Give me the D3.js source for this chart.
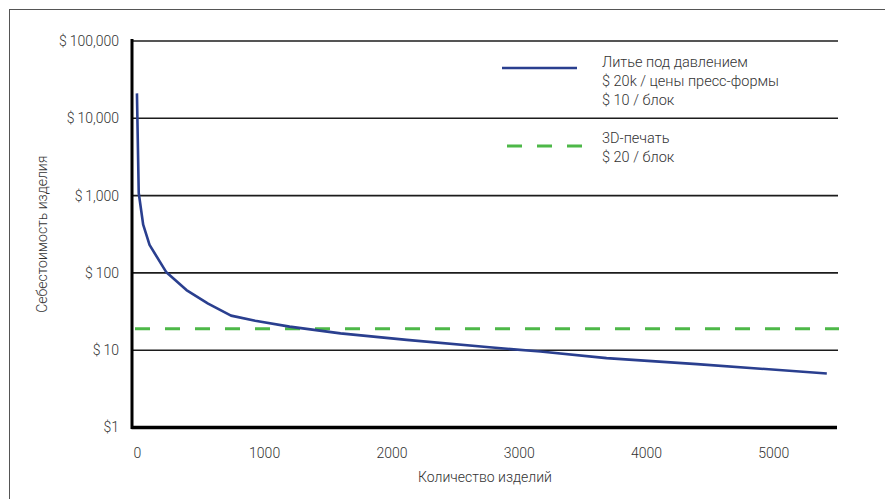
<!DOCTYPE html>
<html><head><meta charset="utf-8">
<script src="https://cdn.jsdelivr.net/npm/d3@7"></script>
<style>
body{margin:0;background:#fff;}
text{font-family:Roboto,'Noto Sans',sans-serif;font-weight:300;fill:#333;}
</style>
</head><body>
<svg id="chart" width="885" height="499"></svg>
<script>
// ---- data ----
const quantity = [1, 15, 50, 100, 230, 390, 560, 740, 930, 1200, 1600, 2120, 2770, 3170, 3690, 4400, 5420];
const moldingCost = [21000, 1080, 420, 230, 103, 60, 40, 28, 24, 20.2, 16.5, 13.6, 10.9, 9.6, 7.9, 6.6, 5.0];
const printCost = 19;
const xDomain = [-30, 5500];
const xTicks = [0, 1000, 2000, 3000, 4000, 5000];
const yTicks = [1, 10, 100, 1000, 10000, 100000];
const yTickLabels = ["$1", "$\u200910", "$\u2009100", "$\u20091,000", "$\u200910,000", "$\u2009100,000"];
const legendMolding = ["Литье под давлением", "$ 20k / цены пресс-формы", "$ 10 / блок"];
const legendPrint = ["3D-печать", "$ 20 / блок"];
const xTitle = "Количество изделий";
const yTitle = "Себестоимость изделия";

// ---- layout ----
const svg = d3.select("#chart");
const L = 133, R = 837, T = 41, B = 427.5;
const x = d3.scaleLinear().domain(xDomain).range([L, R]);
const y = d3.scaleLog().domain([1, 100000]).range([B, T]);
const blue = "#2a3f8f", green = "#4db848";

// outer border
svg.append("rect").attr("x", 9.5).attr("y", 9.5).attr("width", 890).attr("height", 520)
  .attr("fill", "none").attr("stroke", "#555").attr("stroke-width", 1);

// gridlines
svg.append("g").selectAll("line").data(yTicks.filter(d => d > 1)).join("line")
  .attr("x1", L).attr("x2", R + 1).attr("y1", d => y(d)).attr("y2", d => y(d))
  .attr("stroke", "#1c1c1c").attr("stroke-width", 1.6);

// y axis labels
const yAxis = svg.append("g").attr("transform", `translate(${L},0)`)
  .call(d3.axisLeft(y).tickValues(yTicks).tickFormat((d, i) => yTickLabels[i]).tickSize(0).tickPadding(14));
yAxis.select(".domain").remove();
yAxis.selectAll("text").style("font-size", "14px").style("font-family", "Roboto,'Noto Sans',sans-serif").attr("fill", "#333");

// x axis labels
const xAxis = svg.append("g").attr("transform", `translate(0,${B})`)
  .call(d3.axisBottom(x).tickValues(xTicks).tickFormat(d => String(d)).tickSize(0).tickPadding(21));
xAxis.select(".domain").remove();
xAxis.selectAll("text").style("font-size", "14px").style("font-family", "Roboto,'Noto Sans',sans-serif").attr("fill", "#333");

// axis lines
svg.append("line").attr("x1", L - 1.5).attr("x2", R).attr("y1", B).attr("y2", B)
  .attr("stroke", "#000").attr("stroke-width", 3.5);
svg.append("line").attr("x1", L - 1).attr("x2", L - 1).attr("y1", T - 2).attr("y2", B + 1.5)
  .attr("stroke", "#000").attr("stroke-width", 3);

// 3D printing dashed line
svg.append("path").datum(xDomain)
  .attr("d", d3.line().x(d => x(d) + 2).y(() => y(printCost)))
  .attr("fill", "none").attr("stroke", green).attr("stroke-width", 3).attr("stroke-dasharray", "15,15");

// injection molding curve
const pts = quantity.map((q, i) => [q, moldingCost[i]]);
svg.append("path").datum(pts)
  .attr("d", d3.line().x(d => x(d[0])).y(d => y(d[1])))
  .attr("fill", "none").attr("stroke", blue).attr("stroke-width", 2.6).attr("stroke-linejoin", "round");

// axis titles
svg.append("text").attr("x", (L + R) / 2).attr("y", 482).attr("text-anchor", "middle")
  .style("font-size", "14px").text(xTitle);
svg.append("text").attr("transform", `translate(47,${(T + B) / 2}) rotate(-90)`).attr("text-anchor", "middle")
  .style("font-size", "14px").text(yTitle);

// legend
const lg = svg.append("g");
lg.append("line").attr("x1", 502).attr("x2", 577).attr("y1", 68).attr("y2", 68)
  .attr("stroke", blue).attr("stroke-width", 2.6);
lg.selectAll("text.m").data(legendMolding).join("text").attr("class", "m")
  .attr("x", 602).attr("y", (d, i) => 66.5 + i * 19).style("font-size", "14.5px").text(d => d);
lg.append("line").attr("x1", 507).attr("x2", 582).attr("y1", 146).attr("y2", 146)
  .attr("stroke", green).attr("stroke-width", 3).attr("stroke-dasharray", "15,15");
lg.selectAll("text.p").data(legendPrint).join("text").attr("class", "p")
  .attr("x", 602).attr("y", (d, i) => 143 + i * 19).style("font-size", "14.5px").text(d => d);
</script>
</body></html>
